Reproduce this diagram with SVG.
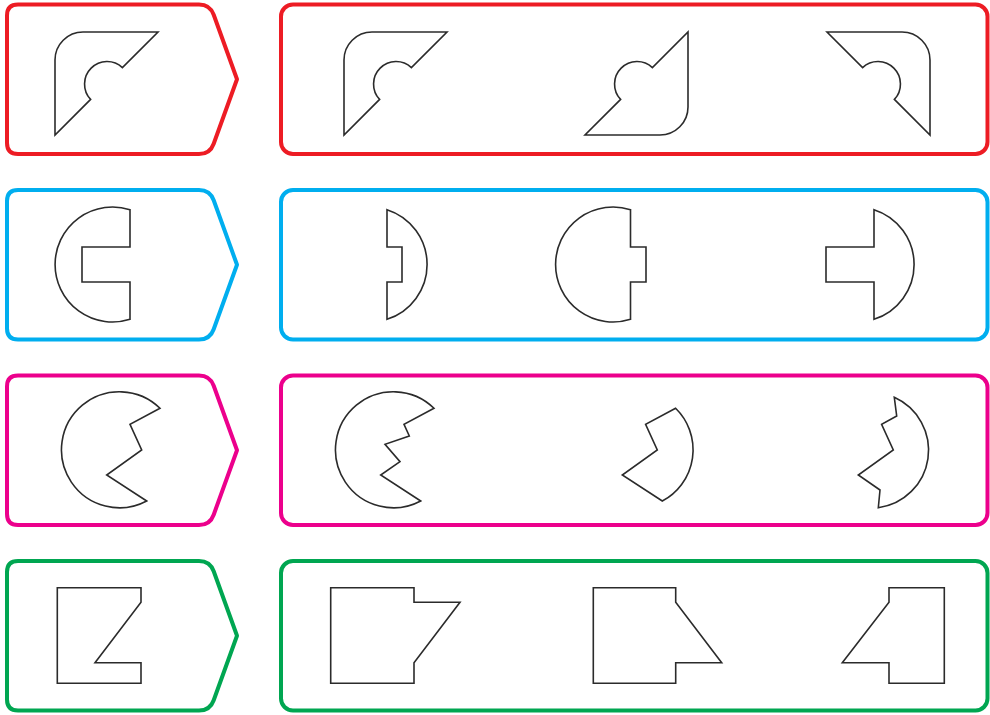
<svg xmlns="http://www.w3.org/2000/svg" xmlns:xlink="http://www.w3.org/1999/xlink" width="990" height="715" viewBox="0 0 990 715">
<style>
.frame{fill:none;stroke-width:4;stroke-linejoin:round}
.red{stroke:#ed1c24}
.blue{stroke:#00aeef}
.pink{stroke:#ec008c}
.green{stroke:#00a651}
.shape{fill:#fff;stroke:#2b2b2b;stroke-width:1.6;stroke-linejoin:miter}
</style>
<defs>
<path id="tag" d="M18,0 L199,0 Q210,0 213.7,10.3 L237,74.75 L213.7,139.2 Q210,149.5 199,149.5 L18,149.5 Q7,149.5 7,138.5 L7,11 Q7,0 18,0 Z"/>
<rect id="box" x="281" y="0" width="706.5" height="149.5" rx="12" ry="12"/>
</defs>
<rect width="990" height="715" fill="#fff"/>

<g id="row1-frames">
<use xlink:href="#tag" class="frame red" transform="translate(0,4.5)"/>
<use xlink:href="#box" class="frame red" transform="translate(0,4.5)"/>
</g>
<g id="row2-frames">
<use xlink:href="#tag" class="frame blue" transform="translate(0,190)"/>
<use xlink:href="#box" class="frame blue" transform="translate(0,190)"/>
</g>
<g id="row3-frames">
<use xlink:href="#tag" class="frame pink" transform="translate(0,375.5)"/>
<use xlink:href="#box" class="frame pink" transform="translate(0,375.5)"/>
</g>
<g id="row4-frames">
<use xlink:href="#tag" class="frame green" transform="translate(0,561)"/>
<use xlink:href="#box" class="frame green" transform="translate(0,561)"/>
</g>

<g id="r1-given"><path class="shape" d="M158,32 L83,32 A28,28 0 0 0 55,60 L55,135 L90.6,99.4 A22.5,22.5 0 0 1 122.4,67.6 Z"/></g>
<g id="r1-a"><path class="shape" d="M447,32 L372,32 A28,28 0 0 0 344,60 L344,135 L379.6,99.4 A22.5,22.5 0 0 1 411.4,67.6 Z"/></g>
<g id="r1-b"><path class="shape" d="M688,32 L688,107 A28,28 0 0 1 660,135 L585,135 L620.6,99.4 A22.5,22.5 0 0 1 652.4,67.6 Z"/></g>
<g id="r1-c"><path class="shape" d="M827,32 L902,32 A28,28 0 0 1 930,60 L930,135 L894.4,99.4 A22.5,22.5 0 0 0 862.6,67.6 Z"/></g>

<g id="r2-given"><path class="shape" d="M130,209.7 A57.5,57.5 0 1 0 130,319.3 L130,282 L82,282 L82,247 L130,247 Z"/></g>
<g id="r2-a"><path class="shape" d="M387,209.7 L387,247 L402,247 L402,282 L387,282 L387,319.3 A57.5,57.5 0 0 0 387,209.7 Z"/></g>
<g id="r2-b"><path class="shape" d="M630.5,209.7 A57.5,57.5 0 1 0 630.5,319.3 L630.5,282 L646,282 L646,247 L630.5,247 Z"/></g>
<g id="r2-c"><path class="shape" d="M874,209.7 L874,247 L826,247 L826,282 L874,282 L874,319.3 A57.5,57.5 0 0 0 874,209.7 Z"/></g>

<g id="r3-given"><path class="shape" d="M160,408.3 L130,424.3 L141.7,450 L106.7,475 L146.7,501 A58,58 0 1 1 160,408.3 Z"/></g>
<g id="r3-a"><path class="shape" d="M434,408.3 L404,424.3 L409.3,436 L385,444.3 L400,461.7 L380.7,475 L420.7,501 A58,58 0 1 1 434,408.3 Z"/></g>
<g id="r3-b"><path class="shape" d="M675.6,408.3 L645.6,424.3 L657.3,450 L622.3,475 L662.3,501 A58,58 0 0 0 675.6,408.3 Z"/></g>
<g id="r3-c"><path class="shape" d="M894.3,397.3 L896.7,416 L881.6,424.3 L893.3,450 L858.3,475 L880,490 L878.3,507.7 A58,58 0 0 0 894.3,397.3 Z"/></g>

<g id="r4-given"><path class="shape" d="M57.3,587.7 L141,587.7 L141,602.3 L95,662.7 L141,662.7 L141,683.3 L57.3,683.3 Z"/></g>
<g id="r4-a"><path class="shape" d="M330.7,587.7 L414,587.7 L414,602.3 L460,602.3 L414,662.7 L414,683.3 L330.7,683.3 Z"/></g>
<g id="r4-b"><path class="shape" d="M593.3,587.7 L675.7,587.7 L675.7,602.3 L721.7,662.7 L675.7,662.7 L675.7,683.3 L593.3,683.3 Z"/></g>
<g id="r4-c"><path class="shape" d="M944.3,587.7 L889,587.7 L889,602.3 L842.3,662.7 L889,662.7 L889,683.3 L944.3,683.3 Z"/></g>
</svg>
